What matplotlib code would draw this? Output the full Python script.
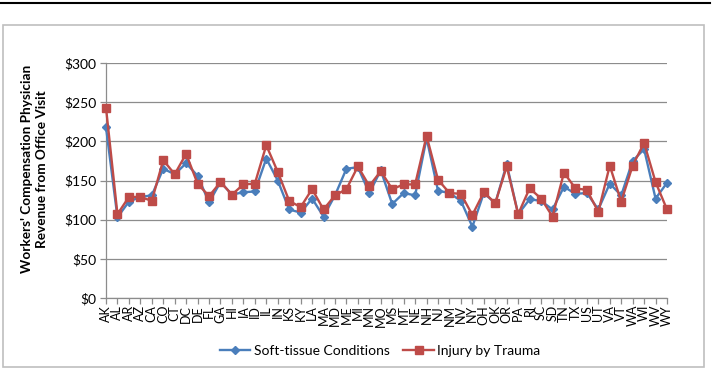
import matplotlib
matplotlib.use("Agg")
import matplotlib.pyplot as plt
from matplotlib.patches import Rectangle
from matplotlib.lines import Line2D

states = ["AK", "AL", "AR", "AZ", "CA", "CO", "CT", "DC", "DE", "FL", "GA", "HI", "IA", "ID",
          "IL", "IN", "KS", "KY", "LA", "MA", "MD", "ME", "MI", "MN", "MO", "MS", "MT", "NE",
          "NH", "NJ", "NM", "NV", "NY", "OH", "OK", "OR", "PA", "RI", "SC", "SD", "TN", "TX",
          "US", "UT", "VA", "VT", "WA", "WI", "WV", "WY"]

soft_tissue = [218, 103, 123, 129, 131, 165, 158, 172, 156, 122, 148, 132, 135, 136,
               178, 150, 113, 109, 127, 104, 131, 165, 167, 134, 163, 120, 134, 131,
               204, 137, 134, 124, 91, 134, 121, 171, 107, 126, 124, 113, 142, 133,
               134, 113, 146, 131, 175, 190, 127, 147]

injury_trauma = [243, 107, 129, 129, 124, 176, 158, 184, 146, 130, 148, 132, 145, 146,
                 195, 161, 124, 116, 139, 113, 131, 139, 168, 143, 162, 139, 145, 145,
                 207, 151, 134, 133, 106, 135, 121, 168, 107, 140, 127, 104, 160, 140,
                 138, 110, 169, 123, 169, 198, 148, 113]

y_ticks = [0, 50, 100, 150, 200, 250, 300]
y_tick_labels = ["$0", "$50", "$100", "$150", "$200", "$250", "$300"]

series_names = ["Soft-tissue Conditions", "Injury by Trauma"]
ylabel = "Workers' Compensation Physician\nRevenue from Office Visit"

plt.rcParams["font.family"] = ["Lato", "DejaVu Sans"]

W, H = 713, 369
fig = plt.figure(figsize=(W / 100, H / 100), dpi=100)

# document rule at top
fig.add_artist(Line2D([0 / W, 710 / W], [1 - 3 / H, 1 - 3 / H], color="black", lw=1.5,
                      transform=fig.transFigure))
# chart border
fig.add_artist(Rectangle((3 / W, 2 / H), (704 - 3) / W, (367 - 25) / H, transform=fig.transFigure,
                         fill=False, edgecolor="#BFBFBF", lw=1.2))

left, right, top, bottom = 106, 667, 63, 298
ax = fig.add_axes([left / W, 1 - bottom / H, (right - left) / W, (bottom - top) / H])

x = list(range(len(states)))
blue = "#4A7EBB"
red = "#BE4B48"
ax.plot(x, soft_tissue, color=blue, lw=1.7, marker="D", ms=4.5, mfc=blue, mec=blue,
        label=series_names[0], zorder=3, clip_on=False)
ax.plot(x, injury_trauma, color=red, lw=1.7, marker="s", ms=5.6, mfc=red, mec=red,
        label=series_names[1], zorder=4, clip_on=False)

ax.set_xlim(0, len(states) - 1)
ax.set_ylim(0, 300)
ax.set_yticks(y_ticks)
ax.set_yticklabels(y_tick_labels, fontsize=10)
ax.set_xticks(x)
ax.set_xticklabels(states, rotation=90, fontsize=9)
ax.grid(axis="y", color="#8C8C8C", lw=0.9)
ax.set_axisbelow(True)
for s in ["top", "right"]:
    ax.spines[s].set_visible(False)
for s in ["left", "bottom"]:
    ax.spines[s].set_color("#8C8C8C")
    ax.spines[s].set_linewidth(0.9)
ax.tick_params(axis="both", colors="#8C8C8C", labelcolor="black", length=4, width=0.9)
ax.tick_params(axis="x", pad=1)
ax.tick_params(axis="y", pad=3)

fig.text(35 / W, 1 - 169 / H, ylabel, rotation=90, ha="center", va="center",
         fontsize=9.8, fontweight="bold", multialignment="center", linespacing=1.3)

fig.legend(loc="center", bbox_to_anchor=(380 / W, 1 - 351 / H), ncol=2, frameon=False,
           fontsize=10, handlelength=2.2, columnspacing=1.0, handletextpad=0.25)

fig.savefig("out.png", dpi=100)
